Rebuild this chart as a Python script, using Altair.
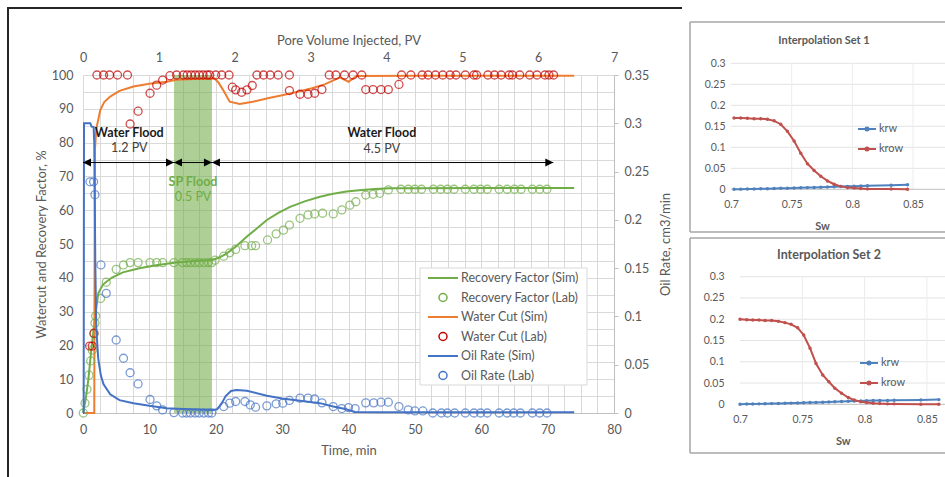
import altair as alt
import pandas as pd

# ---------------- main chart values (x = time, min) ----------------
rf_sim_t = [0, 0.4, 0.8, 1.3, 1.8, 2.3, 3.0, 4.3, 6.0, 8.5, 11.0, 14.0, 17.0, 19.5, 20.5, 21.5, 23.0, 24.7, 26.0, 27.7,
            29.5, 31.2, 33.5, 35.7, 37.5, 39.7, 42.0, 44.0, 46.2, 50.0, 60.0, 74.0]
rf_sim_v = [0, 4.0, 9.8, 19.6, 28.0, 35.4, 38.0, 40.0, 41.6, 42.8, 43.7, 44.5, 45.0, 45.3, 46.0, 47.0, 49.2, 52.2, 54.3, 57.1,
            59.3, 61.0, 62.7, 64.0, 64.8, 65.5, 66.0, 66.3, 66.5, 66.5, 66.6, 66.6]

wc_sim_t = [0, 1.7, 1.75, 1.8, 2.0, 2.6, 3.2, 4.1, 5.5, 7.6, 10.0, 12.6, 14.1, 17.0, 19.8, 20.4, 21.1, 22.1, 23.6, 25.6,
            28.0, 30.2, 32.5, 34.5, 36.5, 38.7, 40.0, 41.2, 50.0, 60.0, 74.0]
wc_sim_v = [0, 0, 50, 78, 84, 89.6, 92.0, 93.6, 95.3, 96.6, 97.4, 98.0, 98.6, 98.8, 99.0, 97.8, 95.6, 92.1, 91.4, 92.1,
            93.2, 94.1, 95.1, 96.1, 97.3, 99.3, 98.0, 99.7, 99.8, 99.8, 99.8]

oil_sim_t = [0, 0.1, 0.15, 1.1, 1.3, 1.6, 1.7, 1.85, 2.0, 2.3, 2.7, 3.1, 4.1, 5.5, 7.6, 10.0, 12.6, 16.0, 19.6, 20.2,
             20.8, 21.5, 22.3, 23.1, 24.7, 27.7, 30.0, 32.7, 35.7, 37.7, 39.5, 41.0, 45.0, 55.0, 74.0]
oil_sim_r = [0, 0, 0.300, 0.300, 0.2965, 0.296, 0.280, 0.1575, 0.0875, 0.056, 0.0385, 0.0298, 0.0193, 0.0133, 0.0102,
             0.0074, 0.0049, 0.0039, 0.0032, 0.0039, 0.0088, 0.0175, 0.0228, 0.0238, 0.0231, 0.0179, 0.0151, 0.0126,
             0.0102, 0.0067, 0.0042, 0.0011, 0.0007, 0.0007, 0.0007]

rf_lab_t = [0.05, 0.3, 0.6, 0.9, 1.15, 1.4, 1.65, 1.8, 1.9, 2.65, 3.5, 5.0, 6.1, 7.1, 8.3, 10.1, 11.1, 12.0, 13.7, 15.0,
            15.6, 16.2, 16.9, 17.5, 18.2, 18.9, 19.4, 19.9, 21.2, 22.1, 23.0, 24.4, 25.4, 26.0, 27.8, 29.1, 30.2, 31.1,
            32.7, 33.9, 34.9, 36.1, 37.7, 39.0, 40.2, 41.1, 42.6, 43.7, 44.7, 46.0, 47.9, 49.0, 50.0, 51.0, 52.8, 53.9,
            54.9, 55.9, 57.6, 58.9, 59.9, 60.9, 62.7, 63.9, 65.0, 66.0, 67.7, 68.8, 69.9]
rf_lab_v = [0, 2.9, 7.0, 11.2, 15.4, 18.6, 23.4, 26.6, 28.7, 33.9, 38.7, 42.5, 43.8, 44.5, 44.5, 44.5, 44.5, 44.5, 44.5, 44.5,
            44.5, 44.5, 44.5, 44.5, 44.5, 44.5, 44.5, 45.2, 46.4, 47.4, 48.4, 49.5, 49.5, 49.5, 51.2, 53.0, 54.1, 55.6,
            57.6, 58.6, 58.9, 59.1, 58.9, 60.1, 61.5, 62.5, 64.5, 64.7, 65.0, 66.0, 66.2, 66.2, 66.2, 66.2, 66.2, 66.2,
            66.2, 66.2, 66.2, 66.2, 66.2, 66.2, 66.2, 66.2, 66.2, 66.2, 66.2, 66.2, 66.2]

wc_lab_t = [1.0, 1.4, 1.65, 2.1, 3.1, 4.0, 5.2, 6.7, 7.1, 8.3, 10.1, 11.1, 12.0, 13.1, 14.1, 15.1, 15.7, 16.3, 16.9, 17.5,
            18.1, 18.7, 19.1, 20.0, 20.9, 22.0, 22.5, 23.0, 23.9, 24.7, 25.5, 26.2, 27.2, 28.2, 29.4, 31.1, 31.1, 32.7,
            33.9, 34.9, 36.0, 37.1, 38.1, 39.4, 40.7, 42.0, 42.6, 43.7, 44.9, 46.0, 47.6, 48.0, 49.4, 51.1, 52.0, 53.1,
            54.2, 55.3, 56.2, 57.6, 58.9, 59.3, 61.0, 62.0, 63.0, 64.2, 64.7, 65.8, 67.3, 68.4, 69.6, 70.2, 70.9]
wc_lab_v = [19.8, 19.8, 23.6, 100, 100, 100, 100, 100, 85.5, 89.3, 94.6, 97.0, 98.5, 99.8, 100, 100, 100, 100, 100, 100,
            100, 100, 100, 100, 100, 100, 96.4, 95.6, 94.9, 95.6, 96.9, 100, 100, 100, 100, 100, 95.4, 94.3,
            94.3, 94.6, 95.7, 100, 100, 100, 100, 100, 95.7, 95.7, 95.7, 95.7, 97.2, 100, 100, 100, 100, 100,
            100, 100, 100, 100, 100, 100, 100, 100, 100, 100, 100, 100, 100, 100, 100, 100, 100]

oil_lab_t = [1.05, 1.6, 1.8, 2.7, 3.5, 5.0, 6.1, 7.1, 8.3, 10.1, 11.1, 12.0, 13.7, 15.0, 15.6, 16.2, 16.9, 17.5, 18.2, 18.9,
             19.4, 21.2, 22.1, 23.0, 24.4, 25.2, 26.0, 27.7, 29.1, 30.1, 31.1, 32.7, 33.9, 34.9, 36.0, 37.7, 39.0, 40.0,
             41.0, 42.6, 43.8, 44.9, 46.0, 47.6, 49.0, 50.0, 51.2, 52.7, 54.0, 54.9, 56.0, 57.6, 58.9, 59.9, 60.9, 62.7,
             63.9, 64.9, 65.9, 67.7, 68.8, 69.9]
oil_lab_r = [0.2394, 0.2394, 0.2261, 0.1533, 0.1239, 0.0756, 0.0567, 0.0417, 0.0301, 0.0140,
             0.0074, 0.0032, 0.0004, 0.0, 0.0, 0.0, 0.0, 0.0, 0.0, 0.0,
             0.0, 0.0067, 0.0102, 0.0119, 0.0119, 0.0084, 0.0060, 0.0074, 0.0095, 0.0102,
             0.0130, 0.0154, 0.0154, 0.0145, 0.0105, 0.0067, 0.0046, 0.0056, 0.0046, 0.0105,
             0.0105, 0.0112, 0.0112, 0.0067, 0.0032, 0.0021, 0.0021, 0.0, 0.0, 0.0,
             0.0, 0.0, 0.0, 0.0, 0.0, 0.0, 0.0, 0.0, 0.0, 0.0,
             0.0, 0.0]

series_names = ["Recovery Factor (Sim)", "Recovery Factor (Lab)", "Water Cut (Sim)",
                "Water Cut (Lab)", "Oil Rate (Sim)", "Oil Rate (Lab)"]
series_colors = ["#70AD47", "#70AD47", "#ED7D31", "#C00000", "#4472C4", "#4472C4"]
series_kinds = ["line", "circle", "line", "circle", "line", "circle"]

time_ticks = [0, 10, 20, 30, 40, 50, 60, 70, 80]
pct_ticks = [0, 10, 20, 30, 40, 50, 60, 70, 80, 90, 100]
rate_ticks = [0, 0.05, 0.1, 0.15, 0.2, 0.25, 0.3, 0.35]
pv_ticks = [0, 1, 2, 3, 4, 5, 6, 7]

# flood phases (in PV)
sp_band = [1.2, 1.7]
phase_start = [0, 1.2, 1.7]
phase_end = [1.2, 1.7, 6.2]
arrow_level = 74.1
ann_text = ["Water Flood", "1.2 PV", "SP Flood", "0.5 PV", "Water Flood", "4.5 PV"]
ann_pv = [0.61, 0.61, 1.45, 1.45, 3.94, 3.94]
ann_val = [82.9, 78.3, 68.4, 63.8, 82.7, 78.1]

# ---------------- interpolation panels ----------------
p1_sw = [0.7025, 0.708, 0.7135, 0.719, 0.7245, 0.730, 0.7355, 0.741, 0.7465, 0.752, 0.7575, 0.763, 0.7685, 0.774,
         0.7795, 0.785, 0.7905, 0.796, 0.8015, 0.807, 0.8125, 0.832, 0.8455]
p1_krw = [0.0002, 0.0004, 0.0006, 0.0009, 0.0012, 0.0015, 0.0019, 0.0023, 0.0027, 0.0031, 0.0035, 0.0040, 0.0045,
          0.0050, 0.0055, 0.0060, 0.0065, 0.0070, 0.0075, 0.0080, 0.0085, 0.0095, 0.0110]
p1_krow = [0.170, 0.170, 0.169, 0.168, 0.168, 0.167, 0.163, 0.155, 0.138, 0.115, 0.086, 0.061, 0.045, 0.031, 0.020,
           0.012, 0.007, 0.004, 0.003, 0.002, 0.001, 0.0005, 0.0003]

p2_sw = [0.700, 0.7054, 0.7102, 0.7152, 0.7201, 0.7254, 0.7308, 0.7361, 0.741, 0.7463, 0.7511, 0.7562, 0.761, 0.7664,
         0.7713, 0.7761, 0.7815, 0.7869, 0.7917, 0.797, 0.8016, 0.8069, 0.8122, 0.8184, 0.8237, 0.8451, 0.8596]
p2_krw = [0.0003, 0.0005, 0.0008, 0.0010, 0.0013, 0.0016, 0.0020, 0.0024, 0.0028, 0.0032, 0.0036, 0.0040, 0.0045,
          0.0050, 0.0055, 0.0060, 0.0065, 0.0070, 0.0075, 0.0080, 0.0085, 0.0088, 0.0090, 0.0092, 0.0094, 0.0102, 0.0110]
p2_krow = [0.200, 0.199, 0.198, 0.198, 0.197, 0.197, 0.195, 0.192, 0.188, 0.180, 0.163, 0.132, 0.096, 0.069, 0.053,
           0.038, 0.026, 0.016, 0.010, 0.006, 0.004, 0.0025, 0.0016, 0.0010, 0.0010, 0.0003, 0.0003]

p_x_ticks = [0.7, 0.75, 0.8, 0.85]
p_y_ticks = [0, 0.05, 0.1, 0.15, 0.2, 0.25, 0.3]
kr_names = ["krw", "krow"]
kr_colors = ["#4F81BD", "#C0504D"]

# ---------------- styling ----------------
FONT = "Lato"
GRAY = "#595959"
GRID = "#d9d9d9"
AXLINE = "#bfbfbf"
PT_SIZE = 64

# ---------------- tables ----------------
sim_df = pd.concat([
    pd.DataFrame({"t": rf_sim_t, "v": rf_sim_v, "series": series_names[0]}),
    pd.DataFrame({"t": wc_sim_t, "v": wc_sim_v, "series": series_names[2]}),
])
lab_df = pd.concat([
    pd.DataFrame({"t": rf_lab_t, "v": rf_lab_v, "series": series_names[1]}),
    pd.DataFrame({"t": wc_lab_t, "v": wc_lab_v, "series": series_names[3]}),
])
oil_sim_df = pd.DataFrame({"t": oil_sim_t, "r": oil_sim_r, "series": series_names[4]})
oil_lab_df = pd.DataFrame({"t": oil_lab_t, "r": oil_lab_r, "series": series_names[5]})

band_df = pd.DataFrame({"pv": [sp_band[0]], "pv2": [sp_band[1]], "v": [0], "v2": [100]})
arrow_df = pd.DataFrame({"pv": phase_start, "pv2": phase_end, "v": arrow_level})
ann_df = pd.DataFrame({"pv": ann_pv, "v": ann_val, "label": ann_text})
legend_df = pd.DataFrame({"series": series_names, "color": series_colors, "kind": series_kinds})

time_scale = alt.Scale(domain=[0, 80], nice=False, zero=False)
pct_scale = alt.Scale(domain=[0, 100], nice=False)
rate_scale = alt.Scale(domain=[0, 0.35], nice=False)
pv_scale = alt.Scale(domain=[0, 7], nice=False, zero=False)

color_enc = alt.Color("series:N", scale=alt.Scale(domain=series_names, range=series_colors), legend=None)

time_grid = [i * 2.5 for i in range(33)]
pct_grid = [i * 5 for i in range(21)]

x_time = alt.X("t:Q", scale=time_scale, axis=alt.Axis(
    orient="bottom", values=time_grid, labelExpr="datum.value % 10 == 0 ? datum.label : ''",
    grid=True, gridColor=GRID, ticks=False, domain=True, domainColor=AXLINE, labelFlush=False,
    labelOverlap=False, labelPadding=10, title="Time, min", titlePadding=9))
y_pct = alt.Y("v:Q", scale=pct_scale, axis=alt.Axis(
    orient="left", values=pct_grid, labelExpr="datum.value % 10 == 0 ? datum.label : ''",
    grid=True, gridColor=GRID, ticks=False, domain=False, labelPadding=10,
    title="Watercut and Recovery Factor, %", titlePadding=3))
x_time2 = alt.X("t:Q", scale=time_scale, axis=None)
y_rate = alt.Y("r:Q", scale=rate_scale, axis=alt.Axis(
    orient="right", values=rate_ticks, format="~g", grid=False, ticks=True, tickSize=4, tickColor=AXLINE,
    domain=True, domainColor=AXLINE, labelPadding=6, title="Oil Rate, cm3/min", titleAngle=270,
    titleBaseline="top", titlePadding=11))
x_pv_axis = alt.Axis(orient="top", values=pv_ticks, format="d", grid=False, ticks=False, domain=False,
                     labelFlush=False, labelPadding=11, title="Pore Volume Injected, PV", titlePadding=4)
y_pct2 = alt.Y("v:Q", scale=pct_scale, axis=None)

g0 = alt.Chart(band_df).mark_rect(color="#70AD47", opacity=0.57).encode(
    x=alt.X("pv:Q", scale=pv_scale, axis=None), x2="pv2", y=y_pct2, y2="v2")

g1 = alt.layer(
    alt.Chart(sim_df).mark_line(strokeWidth=2).encode(x=x_time, y=y_pct, color=color_enc),
    alt.Chart(lab_df).mark_point(shape="circle", filled=False, size=PT_SIZE, strokeWidth=1.3).encode(
        x=x_time, y=y_pct, color=color_enc),
)
g2 = alt.layer(
    alt.Chart(oil_sim_df).mark_line(strokeWidth=2).encode(x=x_time2, y=y_rate, color=color_enc),
    alt.Chart(oil_lab_df).mark_point(shape="circle", filled=False, size=PT_SIZE, strokeWidth=1.3).encode(
        x=x_time2, y=y_rate, color=color_enc),
)

x_pv = alt.X("pv:Q", scale=pv_scale, axis=x_pv_axis)
ann_base = alt.Chart(ann_df)
g3 = alt.layer(
    alt.Chart(arrow_df).mark_rule(color="black", strokeWidth=1).encode(x=x_pv, x2="pv2", y=y_pct2),
    alt.Chart(arrow_df).mark_point(shape="M0,0L1,-0.5L1,0.5Z", filled=True, size=256, color="black", opacity=1).encode(
        x=x_pv, y=y_pct2),
    alt.Chart(arrow_df).mark_point(shape="M0,0L-1,-0.5L-1,0.5Z", filled=True, size=256, color="black", opacity=1).encode(
        x=alt.X("pv2:Q", scale=pv_scale, axis=x_pv_axis), y=y_pct2),
    ann_base.transform_filter("datum.label == 'Water Flood'").mark_text(
        font=FONT, fontSize=12.5, fontWeight="bold", color="#1a1a1a").encode(x=x_pv, y=y_pct2, text="label:N"),
    ann_base.transform_filter("datum.label == '1.2 PV' || datum.label == '4.5 PV'").mark_text(
        font=FONT, fontSize=12.5, color="#404040").encode(x=x_pv, y=y_pct2, text="label:N"),
    ann_base.transform_filter("datum.label == 'SP Flood'").mark_text(
        font=FONT, fontSize=12.5, fontWeight="bold", color="#70AD47").encode(x=x_pv, y=y_pct2, text="label:N"),
    ann_base.transform_filter("datum.label == '0.5 PV'").mark_text(
        font=FONT, fontSize=12.5, color="#70AD47").encode(x=x_pv, y=y_pct2, text="label:N"),
)

main = alt.layer(g0, g1, g2, g3).resolve_scale(x="independent", y="independent")

# ---------------- legend of the main chart (inside the plot) ----------------
leg_y = alt.Y("series:N", scale=alt.Scale(type="point", domain=series_names, range=[203, 300.5], padding=0),
              axis=None)
leg_color = alt.Color("color:N", scale=None)
legend_g = alt.layer(
    alt.Chart(pd.DataFrame({"d": [0]})).mark_rect(fill="white", stroke=GRID, strokeWidth=1).encode(
        x=alt.value(337), x2=alt.value(504), y=alt.value(193), y2=alt.value(310)),
    alt.Chart(legend_df).transform_filter("datum.kind == 'line'").mark_rule(strokeWidth=2).encode(
        x=alt.value(345), x2=alt.value(375), y=leg_y, color=leg_color),
    alt.Chart(legend_df).transform_filter("datum.kind == 'circle'").mark_point(
        shape="circle", filled=False, size=PT_SIZE, strokeWidth=1.5, opacity=1).encode(
        x=alt.value(360), y=leg_y, color=leg_color),
    alt.Chart(legend_df).mark_text(font=FONT, fontSize=12.5, color=GRAY, align="left", baseline="middle").encode(
        x=alt.value(378), y=leg_y, text="series:N"),
)


def panel(sw, krw, krow, title, x_dom, x_rng, y_rng, x_off, y_off, lab_pad, title_pos, title_size, leg_y, leg_x):
    xs = alt.Scale(domain=x_dom, range=x_rng, nice=False, zero=False)
    ys = alt.Scale(domain=[0, 0.3], range=y_rng, nice=False)
    xa = alt.Axis(orient="bottom", offset=x_off, values=p_x_ticks, format="~g", grid=False, ticks=False,
                  domain=False, labelFlush=False, labelOverlap=False, labelFontSize=10.5, labelPadding=10,
                  title="Sw", titleFontSize=11, titleFontWeight="bold", titlePadding=11)
    ya = alt.Axis(orient="left", offset=y_off, values=p_y_ticks, format="~g", grid=False, ticks=False,
                  domain=False, labelFontSize=10.5, labelPadding=lab_pad, title=None)
    X = alt.X("sw:Q", scale=xs, axis=xa)
    Y = alt.Y("k:Q", scale=ys, axis=ya)
    leg = alt.Legend(title=None, orient="none", legendX=leg_x, legendY=leg_y, padding=0,
                     symbolType="M-1,0H1M-0.17,0A0.17,0.17,0,1,1,0.17,0A0.17,0.17,0,1,1,-0.17,0",
                     symbolSize=324, symbolStrokeWidth=2, labelOffset=2, labelFont=FONT, labelFontSize=11,
                     labelColor=GRAY, rowPadding=4)
    C = alt.Color("name:N", scale=alt.Scale(domain=kr_names, range=kr_colors), legend=leg)
    df = pd.concat([pd.DataFrame({"sw": sw, "k": krw, "name": "krw"}),
                    pd.DataFrame({"sw": sw, "k": krow, "name": "krow"})])
    hgrid = pd.DataFrame({"sw": 0.7, "sw2": 0.9, "k": p_y_ticks[1:]})
    vgrid = pd.DataFrame({"sw": p_x_ticks[1:], "k": 0, "k2": 0.3})
    base0 = pd.DataFrame({"sw": [0.7], "sw2": [0.9], "k": [0]})
    ttl = pd.DataFrame({"sw": [title_pos[0]], "k": [title_pos[1]], "label": [title]})
    return alt.layer(
        alt.Chart(hgrid).mark_rule(color="#e3e3e3", strokeWidth=1).encode(x=X, x2="sw2", y=Y),
        alt.Chart(vgrid).mark_rule(color="#ececec", strokeWidth=1).encode(x=X, y=Y, y2="k2"),
        alt.Chart(base0).mark_rule(color=AXLINE, strokeWidth=1).encode(x=X, x2="sw2", y=Y),
        alt.Chart(df).mark_line(strokeWidth=2).encode(x=X, y=Y, color=C),
        alt.Chart(df).mark_circle(size=12, opacity=1).encode(x=X, y=Y, color=C),
        alt.Chart(ttl).mark_text(font=FONT, fontSize=title_size, fontWeight="bold", color=GRAY).encode(
            x=X, y=Y, text="label:N"),
    )


p1 = panel(p1_sw, p1_krw, p1_krow, "Interpolation Set 1", [0.7, 0.85], [648, 830], [114.3, -11.7],
           -223.7, -648, 6, (0.7767, 0.353), 11, 44, 774)
p2 = panel(p2_sw, p2_krw, p2_krow, "Interpolation Set 2", [0.7, 0.865], [657, 862.6], [329.3, 201.7],
           -8.7, -657, 16, (0.7714, 0.351), 12.5, 278, 776)

one = pd.DataFrame({"d": [0]})


def hrule(x1, x2, y, color, w):
    return alt.Chart(one).mark_rule(color=color, strokeWidth=w).encode(
        x=alt.value(x1), x2=alt.value(x2), y=alt.value(y))


def vrule(x, y1, y2, color, w):
    return alt.Chart(one).mark_rule(color=color, strokeWidth=w).encode(
        x=alt.value(x), y=alt.value(y1), y2=alt.value(y2))


frames = alt.layer(
    hrule(-76, 599, -67, "#262626", 2), vrule(-75, -68, 410, "#262626", 2),
    hrule(607, 880, -53, "#a6a6a6", 1.5), vrule(607, -53, 157, "#a6a6a6", 1.5), hrule(607, 880, 157, "#a6a6a6", 1.5),
    hrule(607, 880, 163, "#a6a6a6", 1.5), vrule(607, 163, 378, "#a6a6a6", 1.5), hrule(607, 880, 378, "#a6a6a6", 1.5),
)

chart = alt.layer(main, legend_g, p1, p2, frames).resolve_scale(
    x="independent", y="independent", color="independent"
).properties(
    width=531, height=338,
    autosize=alt.AutoSizeParams(type="none"),
    padding={"left": 83, "top": 75, "right": 331, "bottom": 64},
    background="white",
).configure_view(stroke=None).configure_axis(
    labelFont=FONT, titleFont=FONT, labelColor=GRAY, titleColor=GRAY, titleFontWeight="normal",
    labelFontSize=12.5, titleFontSize=13,
)

chart.save("out.html", embed_options={"renderer": "svg", "actions": False})
